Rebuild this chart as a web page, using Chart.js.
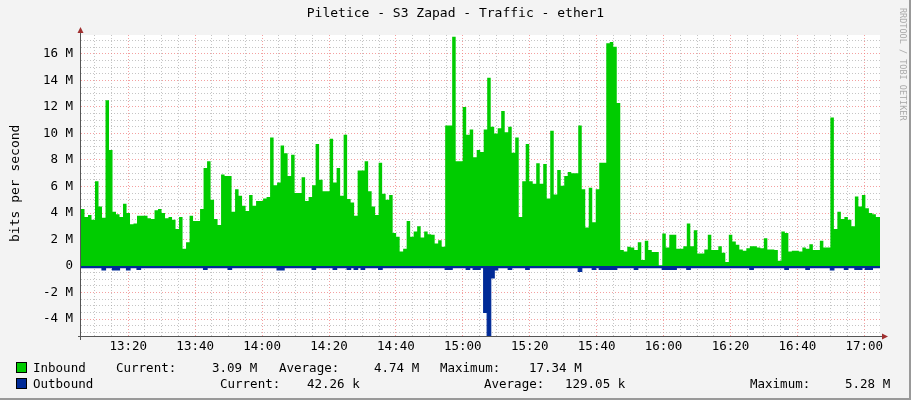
<!DOCTYPE html>
<html><head><meta charset="utf-8">
<script src="https://cdn.jsdelivr.net/npm/chart.js@4/dist/chart.umd.min.js"></script>
<style>
body{margin:0;background:#f3f3f3}
#w{position:relative;width:911px;height:400px;background:#f3f3f3;box-sizing:border-box;border-right:2px solid #999;border-bottom:2px solid #999}
canvas{position:absolute;left:0;top:0}
.t{position:absolute;font:12.5px 'DejaVu Sans Mono',monospace;white-space:pre;color:#000;line-height:14px}
.sq{position:absolute;width:9px;height:9px;border:1px solid #000}
#ttl{left:0;width:911px;text-align:center;top:6px;font-size:13px}
#yt{left:-40px;top:180px;width:110px;text-align:center;transform:rotate(-90deg);font-size:13px}
#rt{left:848px;top:56px;width:110px;text-align:center;transform:rotate(90deg);font-size:8.5px;color:#aaa}
</style></head><body>
<div id="w">
<canvas id="c" width="911" height="400"></canvas>
<div class="t" id="ttl">Piletice - S3 Zapad - Traffic - ether1</div>
<div class="t" id="yt">bits per second</div>
<div class="t" id="rt">RRDTOOL / TOBI OETIKER</div>
<div class="sq" style="left:16px;top:362px;background:#00cc00"></div>
<div class="sq" style="left:16px;top:378px;background:#002a97"></div>
<div class="t" style="left:33px;top:361px">Inbound</div>
<div class="t" style="left:116px;top:361px">Current:</div>
<div class="t" style="left:212px;top:361px">3.09 M</div>
<div class="t" style="left:279px;top:361px">Average:</div>
<div class="t" style="left:374px;top:361px">4.74 M</div>
<div class="t" style="left:440px;top:361px">Maximum:</div>
<div class="t" style="left:529px;top:361px">17.34 M</div>
<div class="t" style="left:33px;top:377px">Outbound</div>
<div class="t" style="left:220px;top:377px">Current:</div>
<div class="t" style="left:307px;top:377px">42.26 k</div>
<div class="t" style="left:484px;top:377px">Average:</div>
<div class="t" style="left:565px;top:377px">129.05 k</div>
<div class="t" style="left:750px;top:377px">Maximum:</div>
<div class="t" style="left:845px;top:377px">5.28 M</div>
</div>
<script>
// time: minutes since midnight
const START_MIN = 785.87;      // 13:05:52
const STEP_MIN = 1.0467;       // sample step
const END_MIN = 1024.7;        // 17:04:42
const Y_MIN = -5.28, Y_MAX = 17.43; // Mbit/s
// Inbound, Mbit/s
const inbound = [
4.5,4.3,3.7,3.85,3.5,6.4,4.5,3.65,12.5,8.75,
4.1,3.9,3.7,4.7,4.0,3.15,3.2,3.8,3.8,3.8,
3.6,3.55,4.2,4.3,4.0,3.6,3.7,3.5,2.8,3.7,
1.3,1.8,3.8,3.4,3.4,4.3,7.4,7.9,5.0,3.55,
3.1,6.9,6.8,6.8,4.1,5.8,5.3,4.55,4.15,5.35,
4.55,4.9,4.9,5.1,5.2,9.7,6.1,6.3,9.1,8.5,
6.8,8.4,5.5,5.5,6.7,4.9,5.2,6.1,9.2,6.5,
5.65,5.65,9.6,6.3,7.4,5.3,9.9,5.05,4.8,3.8,
7.2,7.2,7.9,5.65,4.5,3.85,7.8,5.45,5.0,5.35,
2.5,2.2,1.1,1.3,3.4,2.2,2.6,3.0,2.15,2.6,
2.4,2.35,1.7,1.95,1.45,10.6,10.6,17.3,7.9,7.9,
12.0,9.9,10.3,8.2,8.75,8.6,10.3,14.2,10.5,10.0,
10.4,11.7,10.1,10.5,8.55,9.7,3.7,6.4,9.2,6.4,
6.2,7.75,6.2,7.7,5.1,10.2,5.4,7.25,6.05,6.8,
7.1,7.0,7.0,10.6,5.8,2.9,5.9,3.3,5.8,7.8,
7.8,16.8,16.9,16.55,12.3,1.2,1.1,1.45,1.4,1.2,
1.8,0.45,1.9,1.2,1.05,1.05,0.05,2.45,1.4,2.35,
2.35,1.3,1.3,1.5,3.2,1.5,2.7,0.95,0.95,1.25,
2.35,1.2,1.2,1.5,1.0,0.3,2.35,1.85,1.6,1.25,
1.15,1.35,1.5,1.5,1.4,1.35,2.1,1.25,1.25,1.2,
0.4,2.6,2.5,1.1,1.15,1.15,1.1,1.4,1.3,1.65,
1.2,1.2,1.9,1.4,1.4,11.2,2.8,4.1,3.55,3.7,
3.5,3.0,5.25,4.5,5.35,4.35,4.0,3.9,3.7
];
// Outbound, Mbit/s (drawn below zero)
const outbound = [
-0.12,-0.12,-0.12,-0.12,-0.12,-0.12,-0.12,-0.3,-0.12,-0.12,
-0.3,-0.3,-0.12,-0.12,-0.3,-0.12,-0.12,-0.25,-0.12,-0.12,
-0.12,-0.12,-0.12,-0.12,-0.12,-0.12,-0.12,-0.12,-0.12,-0.12,
-0.12,-0.12,-0.12,-0.12,-0.12,-0.12,-0.25,-0.12,-0.12,-0.12,
-0.12,-0.12,-0.12,-0.25,-0.12,-0.12,-0.12,-0.12,-0.12,-0.12,
-0.12,-0.12,-0.12,-0.12,-0.12,-0.12,-0.12,-0.3,-0.3,-0.12,
-0.12,-0.12,-0.12,-0.12,-0.12,-0.12,-0.12,-0.25,-0.12,-0.12,
-0.12,-0.12,-0.12,-0.25,-0.12,-0.12,-0.12,-0.25,-0.12,-0.25,
-0.12,-0.25,-0.12,-0.12,-0.12,-0.12,-0.25,-0.12,-0.12,-0.12,
-0.12,-0.12,-0.12,-0.12,-0.12,-0.12,-0.12,-0.12,-0.12,-0.12,
-0.12,-0.12,-0.12,-0.12,-0.12,-0.25,-0.25,-0.12,-0.12,-0.12,
-0.12,-0.25,-0.12,-0.25,-0.25,-0.12,-3.5,-5.28,-0.9,-0.3,
-0.12,-0.12,-0.12,-0.25,-0.12,-0.12,-0.12,-0.12,-0.25,-0.12,
-0.12,-0.12,-0.12,-0.12,-0.12,-0.12,-0.12,-0.12,-0.12,-0.12,
-0.12,-0.12,-0.12,-0.4,-0.12,-0.12,-0.12,-0.25,-0.12,-0.25,
-0.25,-0.25,-0.25,-0.25,-0.12,-0.12,-0.12,-0.12,-0.12,-0.25,
-0.12,-0.12,-0.12,-0.12,-0.12,-0.12,-0.12,-0.25,-0.25,-0.25,
-0.25,-0.12,-0.12,-0.12,-0.25,-0.12,-0.12,-0.12,-0.12,-0.12,
-0.12,-0.12,-0.12,-0.12,-0.12,-0.12,-0.12,-0.12,-0.12,-0.12,
-0.12,-0.12,-0.25,-0.12,-0.12,-0.12,-0.12,-0.12,-0.12,-0.12,
-0.12,-0.12,-0.25,-0.12,-0.12,-0.12,-0.12,-0.12,-0.25,-0.12,
-0.12,-0.12,-0.12,-0.12,-0.12,-0.3,-0.12,-0.12,-0.12,-0.25,
-0.12,-0.12,-0.25,-0.25,-0.12,-0.25,-0.25,-0.12,-0.12
];
const X_TICK_STEP = 5, X_LABEL_STEP = 20;
const Y_TICK_STEP = 0.5, Y_LABEL_STEP = 2;

function pts(arr){
  const p = arr.map((v,i)=>({x:START_MIN+i*STEP_MIN, y:v}));
  p.push({x:START_MIN+arr.length*STEP_MIN, y:arr[arr.length-1]});
  return p;
}
function hhmm(m){const h=Math.floor(m/60),mm=Math.round(m%60);return h+':'+String(mm).padStart(2,'0');}
const FONT={family:'DejaVu Sans Mono',size:12.5};
const deco={id:'deco',
 beforeDraw(ch){const a=ch.chartArea,c=ch.ctx;c.save();c.fillStyle='#fff';c.fillRect(a.left,a.top,a.right-a.left,a.bottom-a.top);c.restore();},
 afterDraw(ch){const a=ch.chartArea,c=ch.ctx;c.save();
  c.strokeStyle='#555';c.lineWidth=1;c.beginPath();
  c.moveTo(a.left-0.5,a.bottom+4);c.lineTo(a.left-0.5,a.top-5);
  c.moveTo(a.left-3,a.bottom+0.5);c.lineTo(a.right+4,a.bottom+0.5);c.stroke();
  c.fillStyle='#a03030';c.beginPath();
  c.moveTo(a.left-3.5,a.top-2);c.lineTo(a.left+2.5,a.top-2);c.lineTo(a.left-0.5,a.top-8);c.fill();
  c.beginPath();c.moveTo(a.right+2,a.bottom-2.5);c.lineTo(a.right+2,a.bottom+3.5);c.lineTo(a.right+8,a.bottom+0.5);c.fill();
  c.restore();}
};
new Chart(document.getElementById('c'),{
 type:'line',
 data:{datasets:[
  {label:'Inbound',data:pts(inbound),stepped:'after',fill:'origin',backgroundColor:'#00cc00',borderColor:'#00cc00',borderWidth:0,pointRadius:0,order:1},
  {label:'Outbound',data:pts(outbound),stepped:'after',fill:'origin',backgroundColor:'#002a97',borderColor:'#002a97',borderWidth:1.2,pointRadius:0,order:0}
 ]},
 plugins:[deco],
 options:{responsive:false,animation:false,
  layout:{padding:{top:35,right:31,bottom:44,left:0}},
  plugins:{legend:{display:false},tooltip:{enabled:false}},
  scales:{
   x:{type:'linear',min:START_MIN,max:END_MIN,
    afterBuildTicks(s){const t=[];for(let v=Math.ceil(START_MIN/X_TICK_STEP)*X_TICK_STEP;v<=END_MIN;v+=X_TICK_STEP)t.push({value:v});s.ticks=t;},
    afterFit(s){s.height=20;},
    ticks:{autoSkip:false,maxRotation:0,padding:3,color:'#000',font:FONT,callback:v=>(Math.round(v)%X_LABEL_STEP===0?hhmm(v):'')},
    grid:{drawTicks:false,lineWidth:1,color:c=>(c.tick&&Math.round(c.tick.value)%X_LABEL_STEP===0)?'rgba(240,120,120,0.7)':'rgba(150,150,150,0.55)'},
    border:{display:false,dash:[1,2]}},
   y:{min:Y_MIN,max:Y_MAX,
    afterBuildTicks(s){const t=[];for(let v=-5;v<=17;v+=Y_TICK_STEP)t.push({value:v});s.ticks=t;},
    afterFit(s){s.width=81;},
    ticks:{autoSkip:false,padding:8,color:'#000',font:FONT,callback:v=>{if(Math.abs(v%Y_LABEL_STEP)>1e-6)return '';return v===0?'0':v+' M';}},
    grid:{drawTicks:false,lineWidth:1,color:c=>(c.tick&&Math.abs(c.tick.value%Y_LABEL_STEP)<1e-6)?'rgba(240,120,120,0.7)':'rgba(150,150,150,0.55)'},
    border:{display:false,dash:[1,2]}}
  }}
});
</script></body></html>
